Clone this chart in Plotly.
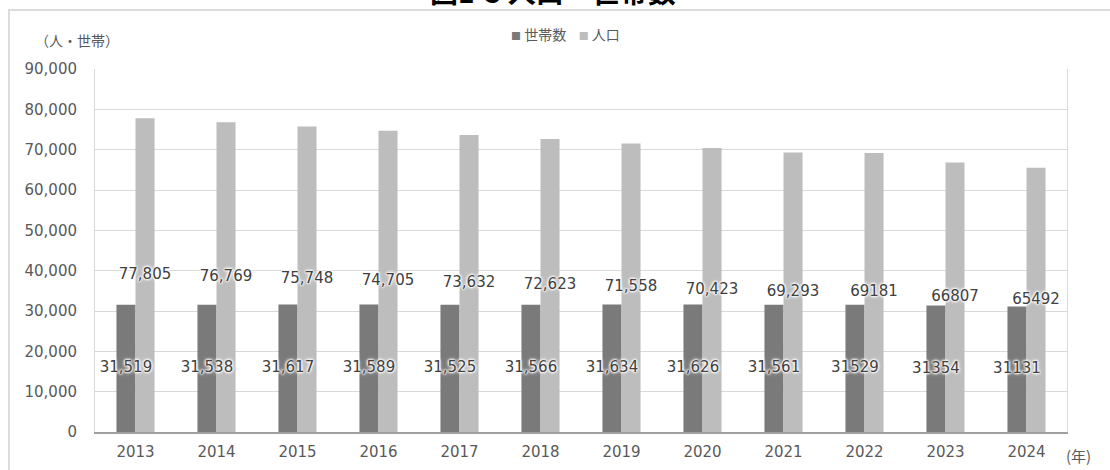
import plotly.graph_objects as go

years = [2013, 2014, 2015, 2016, 2017, 2018, 2019, 2020, 2021, 2022, 2023, 2024]
households = [31519, 31538, 31617, 31589, 31525, 31566, 31634, 31626, 31561, 31529, 31354, 31131]
population = [77805, 76769, 75748, 74705, 73632, 72623, 71558, 70423, 69293, 69181, 66807, 65492]
# whether the printed data label uses a thousands separator
households_comma = [True] * 9 + [False] * 3
population_comma = [True] * 9 + [False] * 3
y_ticks = [0, 10000, 20000, 30000, 40000, 50000, 60000, 70000, 80000, 90000]

title_text = "図1-5 人口・世帯数"
series_names = ["世帯数", "人口"]
y_unit = "（人・世帯）"
x_unit = "(年)"

DARK = "#7a7a7a"
LIGHT = "#bdbdbd"
TXT = "#595959"
LBL = "#404040"
NUM_FONT = "DejaVu Sans, Noto Sans CJK JP, sans-serif"
CJK_FONT = "Noto Sans CJK JP, DejaVu Sans, sans-serif"

W, H = 1110, 470
ML, MR, MT, MB = 95, 43, 69, 38
PW, PH = W - ML - MR, H - MT - MB

def px_x(px):
    return (px - ML) / PW

def px_y(py):
    return (H - MB - py) / PH

bw = 0.235

def fmt(vals, flags):
    return [f"{v:,}" if c else str(v) for v, c in zip(vals, flags)]

halo = "0px 0px 2px #ffffff, 0px 0px 2px #ffffff, 0px 0px 3px #ffffff, 0px 0px 3px #ffffff, 0px 0px 4px #ffffff"

fig = go.Figure()
fig.add_trace(go.Bar(x=years, y=households, width=bw, offset=-bw, marker_color=DARK,
                     marker_line_width=0, name=series_names[0], showlegend=False))
fig.add_trace(go.Bar(x=years, y=population, width=bw, offset=0, marker_color=LIGHT,
                     marker_line_width=0, name=series_names[1], showlegend=False))

fig.add_trace(go.Scatter(x=[y - bw / 2 for y in years], y=[v / 2 for v in households],
                         mode="text", text=fmt(households, households_comma),
                         textfont=dict(family=NUM_FONT, size=15, color=LBL, shadow=halo),
                         showlegend=False, hoverinfo="skip", cliponaxis=False))
fig.add_trace(go.Scatter(x=[y + bw / 2 for y in years], y=[v / 2 for v in population],
                         mode="text", text=fmt(population, population_comma),
                         textfont=dict(family=NUM_FONT, size=15, color=LBL, shadow=halo),
                         showlegend=False, hoverinfo="skip", cliponaxis=False))

fig.update_layout(
    width=W, height=H,
    margin=dict(l=ML, r=MR, t=MT, b=MB, pad=0, autoexpand=False),
    paper_bgcolor="white", plot_bgcolor="white",
    font=dict(family=NUM_FONT, size=15, color=TXT),
    barmode="overlay",
    showlegend=False,
    xaxis=dict(range=[years[0] - 0.5, years[-1] + 0.5], tickvals=years,
               ticktext=[str(y) for y in years], showgrid=False, zeroline=False,
               showline=True, linecolor="#a0a0a0", linewidth=2, ticks="", automargin=False,
               ticklabelstandoff=5, tickfont=dict(family=NUM_FONT, size=15, color=TXT)),
    yaxis=dict(range=[0, 90000], tickvals=y_ticks, tickformat=",d", automargin=False,
               showgrid=True, gridcolor="#d9d9d9", gridwidth=1, zeroline=False,
               showline=True, linecolor="#d9d9d9", linewidth=1, mirror=True,
               ticks="", ticklabelstandoff=14,
               tickfont=dict(family=NUM_FONT, size=15, color=TXT)),
)

# outer frame
fig.add_shape(type="rect", xref="paper", yref="paper",
              x0=px_x(9), x1=px_x(W + 10), y0=px_y(H + 10), y1=px_y(10),
              line=dict(color="#dcdcdc", width=2), fillcolor="rgba(0,0,0,0)", layer="below")

# clipped title above frame
fig.add_annotation(xref="paper", yref="paper", x=px_x(553), y=px_y(-9),
                   text=f"<b>{title_text}</b>", showarrow=False, xanchor="center", yanchor="middle",
                   font=dict(family=CJK_FONT, size=28, color="#000000"))

# legend
legend_html = (f"<span style='color:{DARK};font-size:10px'>■</span> {series_names[0]}"
               f"&nbsp;&nbsp;&nbsp;&nbsp;"
               f"<span style='color:{LIGHT};font-size:10px'>■</span> {series_names[1]}")
fig.add_annotation(xref="paper", yref="paper", x=px_x(565), y=px_y(34),
                   text=legend_html, showarrow=False, xanchor="center", yanchor="middle",
                   font=dict(family=CJK_FONT, size=14, color=TXT))

# unit labels
fig.add_annotation(xref="paper", yref="paper", x=px_x(77), y=px_y(40),
                   text=y_unit, showarrow=False, xanchor="center", yanchor="middle",
                   font=dict(family=CJK_FONT, size=14, color=TXT))
fig.add_annotation(xref="paper", yref="paper", x=px_x(1078), y=px_y(455),
                   text=x_unit, showarrow=False, xanchor="center", yanchor="middle",
                   font=dict(family=CJK_FONT, size=15, color=TXT))

fig.write_html("out.html", config={"displayModeBar": False},
               post_script="document.body.style.margin='0';")
